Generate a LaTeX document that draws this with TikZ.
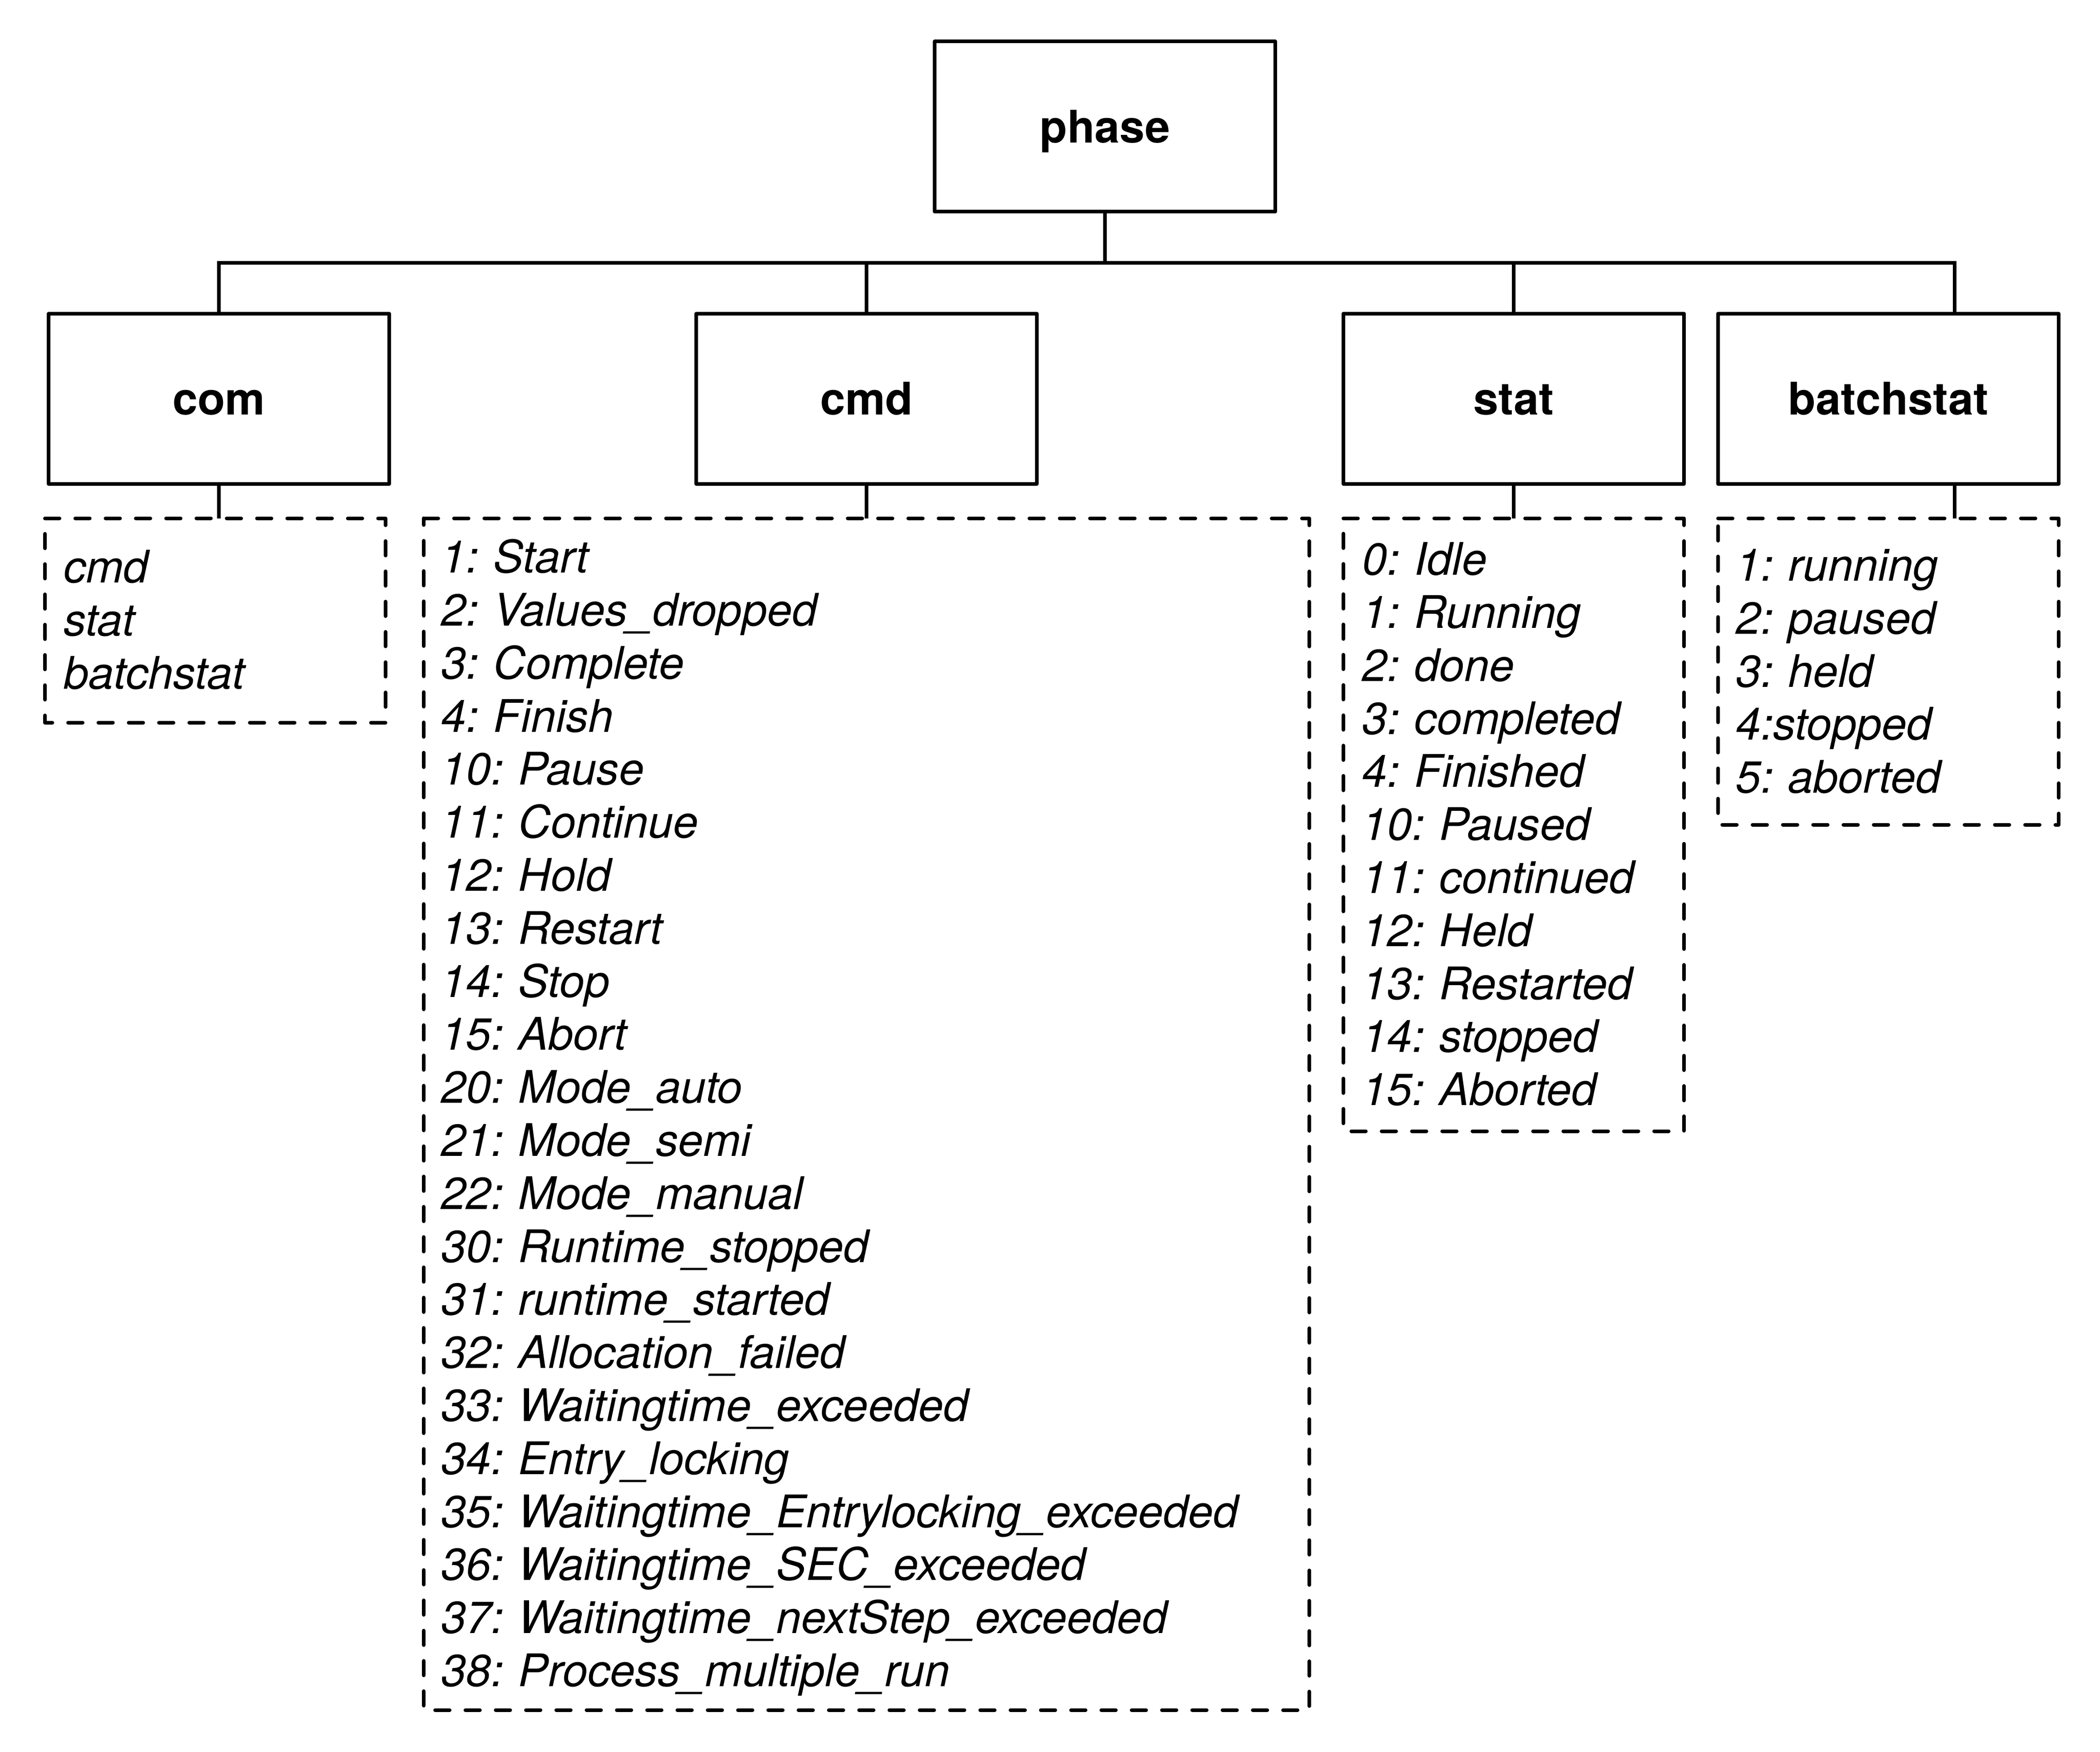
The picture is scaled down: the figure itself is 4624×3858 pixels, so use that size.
\documentclass[tikz,border=0pt]{standalone}
\usepackage{fontspec}
\setmainfont{TeX Gyre Heros}
\begin{document}
\begin{tikzpicture}[x=0.25pt,y=-0.25pt,
  box/.style={draw, line width=2pt, line join=round, minimum width=187.5pt,
    minimum height=93.75pt, inner sep=0pt, outer sep=0pt,
    font=\fontsize{24.75pt}{29.2pt}\selectfont\bfseries,
    text height=20pt, text depth=2.25pt},
  conn/.style={line width=2pt},
  listbox/.style={inner sep=0pt, outer sep=0pt, minimum width=187.5pt, anchor=north west},
  listline/.style={line width=2pt, line cap=round, line join=round,
    dash pattern=on 8pt off 8.67pt},
  listtext/.style={inner sep=0pt, outer sep=0pt, anchor=base west, align=left,
    text width=480pt, font=\fontsize{24.75pt}{29.2pt}\selectfont\itshape\frenchspacing}]
\useasboundingbox (0,0) rectangle (4624,3858);

% boxes
\node[box] (phase) at (2433,278.9) {phase};
\node[box] (com) at (482,878) {com};
\node[box] (cmd) at (1908,878) {cmd};
\node[box] (stat) at (3333,878) {stat};
\node[box] (batchstat) at (4158,878) {batchstat};

% list frames
\node[listbox, minimum height=112.5pt] (comlist) at (99,1141.5) {};
\node[listbox, minimum width=487.5pt, minimum height=656.25pt] (cmdlist) at (933,1141.5) {};
\node[listbox, minimum height=337.5pt] (statlist) at (2958,1141.5) {};
\node[listbox, minimum height=168.75pt] (batchlist) at (3783,1141.5) {};

\foreach \n in {comlist,cmdlist,statlist,batchlist}
  \draw[listline] (\n.north west) -- (\n.north east) -- (\n.south east) -- (\n.south west) -- cycle;

% list texts
\node[listtext] (comtext) at (140,1283.7) {cmd\\stat\\batchstat};
\node[listtext] (cmdtext) at (971,1261.6) {1: Start\\2: Values\_dropped\\3: Complete\\4: Finish\\10: Pause\\11: Continue\\12: Hold\\13: Restart\\14: Stop\\15: Abort\\20: Mode\_auto\\21: Mode\_semi\\22: Mode\_manual\\30: Runtime\_stopped\\31: runtime\_started\\32: Allocation\_failed\\33: Waitingtime\_exceeded\\34: Entry\_locking\\35: Waitingtime\_Entrylocking\_exceeded\\36: Waitingtime\_SEC\_exceeded\\37: Waitingtime\_nextStep\_exceeded\\38: Process\_multiple\_run};
\node[listtext] (stattext) at (2999,1266.6) {0: Idle\\1: Running\\2: done\\3: completed\\4: Finished\\10: Paused\\11: continued\\12: Held\\13: Restarted\\14: stopped\\15: Aborted};
\node[listtext] (batchtext) at (3822,1279.4) {1: running\\2: paused\\3: held\\4:stopped\\5: aborted};

% connectors
\coordinate (bus) at (2433,579);
\coordinate (bsin) at (4304,690);
\coordinate (bsout) at (4304,1066);
\draw[conn] (phase.south) -- (bus);
\draw[conn] (com.north) |- (bus) -| (bsin);
\draw[conn] (cmd.north) -- (cmd.north |- bus);
\draw[conn] (stat.north) -- (stat.north |- bus);
\draw[conn] (com.south) -- (com.south |- comlist.north);
\draw[conn] (cmd.south) -- (cmd.south |- cmdlist.north);
\draw[conn] (stat.south) -- (stat.south |- statlist.north);
\draw[conn] (bsout) -- (bsout |- batchlist.north);
\end{tikzpicture}
\end{document}
